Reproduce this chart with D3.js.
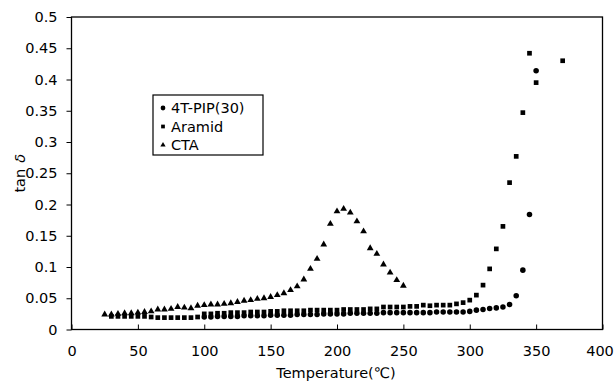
<!DOCTYPE html>
<html><head><meta charset="utf-8">
<script src="https://cdn.jsdelivr.net/npm/d3@7"></script>
<style>body{margin:0;background:#fff}svg{display:block}text{font-family:"DejaVu Sans","Noto Sans",sans-serif}</style>
</head><body><div id="chart"></div>
<script>
// ---- data ----
const xTicks = [0,50,100,150,200,250,300,350,400];
const yTicks = [0,0.05,0.1,0.15,0.2,0.25,0.3,0.35,0.4,0.45,0.5];
const yTickLabels = ["0","0.05","0.1","0.15","0.2","0.25","0.3","0.35","0.4","0.45","0.5"];
const seriesNames = ["4T-PIP(30)","Aramid","CTA"];

const pipT = [100,105,110,115,120,125,130,135,140,145,150,155,160,165,170,175,180,185,190,195,200,205,210,215,220,225,230,235,240,245,250,255,260,265,270,275,280,285,290,295,300,305,310,315,320,325,330,335,340,345,350];
const pipV = [0.020,0.020,0.021,0.021,0.021,0.021,0.022,0.022,0.022,0.022,0.023,0.023,0.023,0.023,0.024,0.024,0.024,0.024,0.025,0.025,0.025,0.025,0.026,0.026,0.026,0.026,0.026,0.027,0.027,0.027,0.027,0.027,0.027,0.027,0.027,0.028,0.028,0.028,0.028,0.028,0.029,0.031,0.032,0.0335,0.0346,0.036,0.040,0.054,0.095,0.184,0.414];

const araT = [30,35,40,45,50,55,60,65,70,75,80,85,90,95,100,105,110,115,120,125,130,135,140,145,150,155,160,165,170,175,180,185,190,195,200,205,210,215,220,225,230,235,240,245,250,255,260,265,270,275,280,285,290,295,300,305,310,315,320,325,330,335,340,345,350,370];
const araV = [0.021,0.021,0.021,0.021,0.021,0.021,0.020,0.019,0.019,0.019,0.019,0.019,0.019,0.020,0.025,0.025,0.026,0.026,0.027,0.027,0.027,0.028,0.028,0.028,0.029,0.029,0.030,0.030,0.030,0.030,0.031,0.031,0.031,0.031,0.031,0.032,0.032,0.032,0.032,0.033,0.033,0.036,0.036,0.036,0.036,0.037,0.037,0.039,0.038,0.039,0.039,0.039,0.041,0.043,0.047,0.055,0.071,0.097,0.129,0.165,0.235,0.277,0.347,0.442,0.395,0.430];

const ctaT = [25,30,35,40,45,50,55,60,65,70,75,80,85,90,95,100,105,110,115,120,125,130,135,140,145,150,155,160,165,170,175,180,185,190,195,200,205,210,215,220,225,230,235,240,245,250];
const ctaV = [0.024,0.024,0.025,0.026,0.026,0.027,0.028,0.029,0.032,0.032,0.033,0.036,0.035,0.034,0.038,0.039,0.040,0.040,0.041,0.042,0.044,0.046,0.047,0.049,0.050,0.052,0.055,0.058,0.063,0.069,0.080,0.097,0.113,0.136,0.169,0.189,0.193,0.187,0.173,0.157,0.130,0.121,0.104,0.091,0.079,0.070];

// ---- layout ----
const W = 615, H = 383;
const L = 71.5, R = 602.5, T = 17, B = 329.5;
const FS = 14.5;
const svg = d3.select("#chart").append("svg").attr("width", W).attr("height", H);
const x = d3.scaleLinear().domain([0,400]).range([L,R]);
const y = d3.scaleLinear().domain([0,0.5]).range([B,T]);

// frame
svg.append("rect").attr("x",L).attr("y",T).attr("width",R-L).attr("height",B-T)
  .attr("fill","none").attr("stroke","#000").attr("stroke-width",1.3);

// y axis
const yAxis = d3.axisLeft(y).tickValues(yTicks).tickSize(5).tickPadding(9)
  .tickFormat((d,i)=>yTickLabels[i]);
const gy = svg.append("g").attr("transform",`translate(${L},0)`).call(yAxis);
gy.select(".domain").remove();
gy.selectAll("line").attr("stroke","#000");
gy.selectAll("text").attr("font-size",FS).attr("fill","#000");

// x axis (ticks inside)
const xAxis = d3.axisBottom(x).tickValues(xTicks).tickSize(-5).tickPadding(16).tickFormat(d3.format("d"));
const gx = svg.append("g").attr("transform",`translate(0,${B})`).call(xAxis);
gx.select(".domain").remove();
gx.selectAll("line").attr("stroke","#000");
gx.selectAll("text").attr("font-size",FS).attr("fill","#000")
  .attr("dx",(d,i,n)=> i===n.length-1 ? -3 : 0);

// axis titles
svg.append("text").attr("x",336).attr("y",378).attr("text-anchor","middle")
  .attr("font-size",FS).text("Temperature(℃)");
const yt = svg.append("text").attr("transform",`translate(25,${(T+B)/2}) rotate(-90)`)
  .attr("text-anchor","middle").attr("font-size",FS);
yt.append("tspan").text("tan");
yt.append("tspan").attr("dx",6).attr("font-style","italic").text("δ");

// marks
const sym = {
  "4T-PIP(30)": d3.symbol().type(d3.symbolCircle).size(24),
  "Aramid": d3.symbol().type(d3.symbolSquare).size(22),
  "CTA": d3.symbol().type(d3.symbolTriangle).size(20)
};
function plot(ts, vs, name){
  svg.append("g").selectAll("path").data(ts.map((t,i)=>[t,vs[i]])).join("path")
    .attr("transform",d=>`translate(${x(d[0])},${y(d[1])})`)
    .attr("d",sym[name]()).attr("fill","#000");
}
plot(ctaT, ctaV, "CTA");
plot(araT, araV, "Aramid");
plot(pipT, pipV, "4T-PIP(30)");

// legend
const lg = svg.append("g");
lg.append("rect").attr("x",153).attr("y",95).attr("width",110).attr("height",60)
  .attr("fill","#fff").attr("stroke","#000").attr("stroke-width",1.2);
const legSym = {
  "4T-PIP(30)": d3.symbol().type(d3.symbolCircle).size(18),
  "Aramid": d3.symbol().type(d3.symbolSquare).size(14),
  "CTA": d3.symbol().type(d3.symbolTriangle).size(12)
};
seriesNames.forEach((n,i)=>{
  const yy = 108 + i*18.5;
  lg.append("path").attr("transform",`translate(163,${yy})`).attr("d",legSym[n]()).attr("fill","#000");
  lg.append("text").attr("x",171).attr("y",yy+5).attr("font-size",FS).text(n);
});
</script></body></html>
